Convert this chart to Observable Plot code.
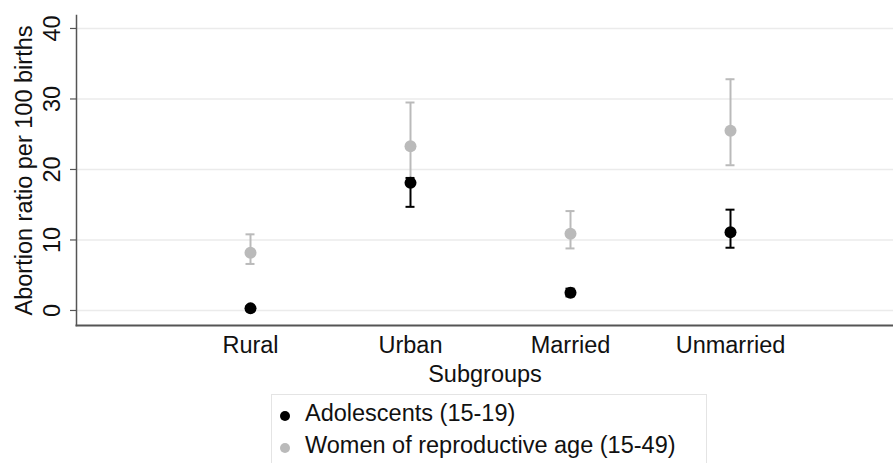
<!DOCTYPE html>
<html>
<head>
<meta charset="utf-8">
<script src="https://cdn.jsdelivr.net/npm/d3@7"></script>
<script src="https://cdn.jsdelivr.net/npm/@observablehq/plot@0.6"></script>
<style>
  html, body { margin: 0; padding: 0; background: #fff; }
  body { width: 893px; height: 463px; overflow: hidden; position: relative; font-family: "Liberation Sans", Arial, sans-serif; }
  #legend { position: absolute; left: 271px; top: 394px; width: 436px; height: 80px; border: 1px solid #e4e4e4; box-sizing: border-box; background: #fff; }
  .item { position: absolute; left: 0; font-size: 23.5px; color: #111; white-space: nowrap; }
  .sw { position: absolute; width: 10px; height: 10px; border-radius: 50%; }
</style>
</head>
<body>
<div id="chart"></div>
<div id="legend"></div>
<script>
const categories = ["Rural", "Urban", "Married", "Unmarried"];
const adolEst  = [0.3, 18.1, 2.5, 11.1];
const adolLow  = [0.1, 14.7, 2.0, 8.9];
const adolHigh = [0.6, 18.8, 3.1, 14.3];
const womenEst  = [8.2, 23.3, 10.9, 25.5];
const womenLow  = [6.6, 18.5, 8.8, 20.6];
const womenHigh = [10.8, 29.5, 14.1, 32.8];
const yTicks = [0, 10, 20, 30, 40];
const seriesNames = ["Adolescents (15-19)", "Women of reproductive age (15-49)"];
const seriesColors = ["#000000", "#bababa"];
const yTitle = "Abortion ratio per 100 births";
const xTitle = "Subgroups";

const adol = categories.map((c, i) => ({cat: c, est: adolEst[i], low: adolLow[i], high: adolHigh[i]}));
const women = categories.map((c, i) => ({cat: c, est: womenEst[i], low: womenLow[i], high: womenHigh[i]}));

const fs = 23.5;
const chart = Plot.plot({
  width: 893,
  height: 390,
  marginTop: 15,
  marginBottom: 65,
  marginLeft: 76,
  marginRight: 0,
  style: {fontFamily: "'Liberation Sans', Arial, sans-serif", background: "#fff", color: "#111"},
  x: {type: "band", domain: categories, paddingInner: 0, paddingOuter: 0.553, align: 0.531, axis: null},
  y: {domain: [-2.13, 41.84]},
  marks: [
    Plot.ruleY(yTicks, {stroke: "#ebebeb", strokeWidth: 1.5}),
    Plot.axisY(yTicks, {tickSize: 6, tickFormat: () => "", stroke: "#555", strokeWidth: 1.2, label: null}),
    Plot.frame({anchor: "left", stroke: "#555", strokeWidth: 1.5}),
    Plot.frame({anchor: "bottom", stroke: "#555", strokeWidth: 2}),
    Plot.text(yTicks, {y: d => d, text: d => String(d), frameAnchor: "left", dx: -17, rotate: -90, lineAnchor: "bottom", textAnchor: "middle", fontSize: fs, fill: "#111"}),
    Plot.text([yTitle], {frameAnchor: "left", dx: -45, rotate: -90, lineAnchor: "bottom", textAnchor: "middle", fontSize: fs, fill: "#111"}),
    Plot.text(categories, {x: d => d, frameAnchor: "bottom", dy: 27, lineAnchor: "bottom", fontSize: fs, fill: "#111"}),
    Plot.text([xTitle], {frameAnchor: "bottom", dy: 56, lineAnchor: "bottom", fontSize: fs, fill: "#111"}),
    // women of reproductive age
    Plot.ruleX(women, {x: "cat", y1: "low", y2: "high", stroke: seriesColors[1], strokeWidth: 2}),
    Plot.tickY(women, {x: "cat", y: "low", insetLeft: 75.5, insetRight: 75.5, stroke: seriesColors[1], strokeWidth: 2}),
    Plot.tickY(women, {x: "cat", y: "high", insetLeft: 75.5, insetRight: 75.5, stroke: seriesColors[1], strokeWidth: 2}),
    Plot.dot(women, {x: "cat", y: "est", r: 6, fill: seriesColors[1], stroke: "none"}),
    // adolescents
    Plot.dot(adol, {x: "cat", y: "est", r: 6, fill: seriesColors[0], stroke: "none"}),
    Plot.ruleX(adol, {x: "cat", y1: "low", y2: "high", stroke: seriesColors[0], strokeWidth: 2}),
    Plot.tickY(adol, {x: "cat", y: "low", insetLeft: 75.5, insetRight: 75.5, stroke: seriesColors[0], strokeWidth: 2}),
    Plot.tickY(adol, {x: "cat", y: "high", insetLeft: 75.5, insetRight: 75.5, stroke: seriesColors[0], strokeWidth: 2})
  ]
});
document.getElementById("chart").appendChild(chart);

const legend = document.getElementById("legend");
seriesNames.forEach((name, i) => {
  const sw = document.createElement("div");
  sw.className = "sw";
  sw.style.background = seriesColors[i];
  sw.style.left = "8px";
  sw.style.top = (16 + i * 32) + "px";
  legend.appendChild(sw);
  const t = document.createElement("div");
  t.className = "item";
  t.textContent = name;
  t.style.left = "33px";
  t.style.top = (5 + i * 32) + "px";
  legend.appendChild(t);
});
</script>
</body>
</html>
